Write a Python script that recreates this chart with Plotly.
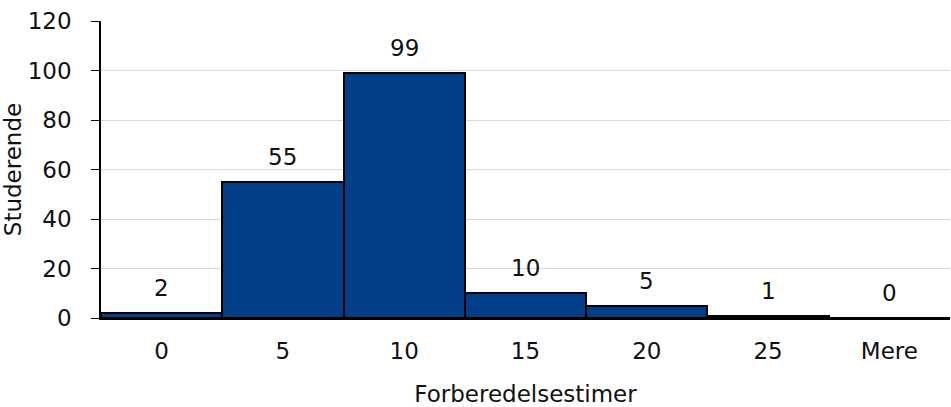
import plotly.graph_objects as go

categories = ["0", "5", "10", "15", "20", "25", "Mere"]
students = [2, 55, 99, 10, 5, 1, 0]
y_ticks = [0, 20, 40, 60, 80, 100, 120]

FONT = "DejaVu Sans"
TXT = "#111111"

fig = go.Figure()
fig.add_trace(go.Bar(
    x=categories, y=students,
    marker=dict(color="#003F87", line=dict(color="black", width=2)),
    hoverinfo="skip",
))
# category index i is the position of categories[i] on the category axis
for i, v in enumerate(students):
    fig.add_annotation(x=i, y=v, text=str(v), showarrow=False,
                       yanchor="bottom", yshift=10,
                       font=dict(family=FONT, size=23, color=TXT))

fig.update_layout(
    width=951, height=407,
    margin=dict(l=101, r=1, t=21, b=89),
    paper_bgcolor="white", plot_bgcolor="white",
    bargap=0, showlegend=False,
    font=dict(family=FONT, size=23, color=TXT),
)
fig.update_xaxes(
    type="category", tickangle=0, range=[-0.5, len(categories) - 0.5],
    automargin=False,
    showline=True, linecolor="black", linewidth=1.5,
    ticks="", showgrid=False, ticklabelstandoff=12,
    title=dict(text="Forberedelsestimer", font=dict(size=23), standoff=23),
    tickfont=dict(size=23),
)
fig.update_yaxes(
    range=[0, 120], tickvals=y_ticks, automargin=False,
    showline=True, linecolor="black", linewidth=1.5,
    ticks="outside", ticklen=8, tickcolor="black",
    ticklabelstandoff=15,
    showgrid=True, gridcolor="#d9d9d9", gridwidth=1,
    title=dict(text="Studerende", font=dict(size=23), standoff=5),
    tickfont=dict(size=23), zeroline=False,
)
fig.write_html(
    "out.html",
    config={"responsive": False, "displayModeBar": False},
    post_script="document.body.style.margin='0';document.body.style.overflow='hidden';",
)
